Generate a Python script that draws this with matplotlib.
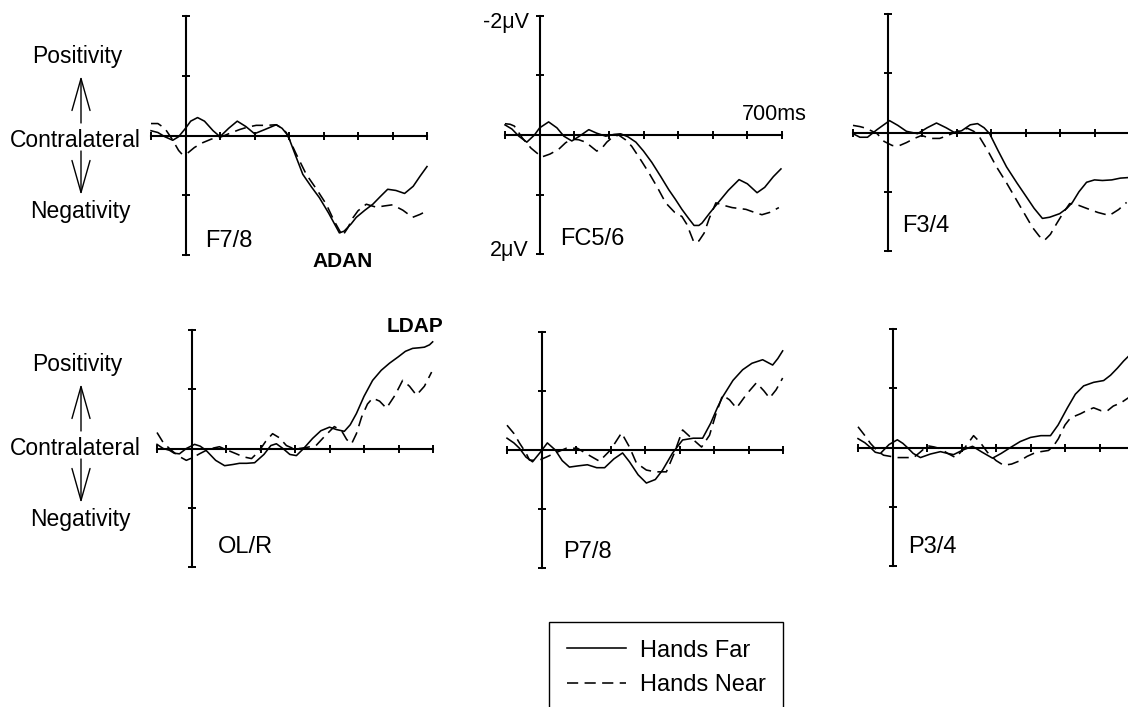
import matplotlib
matplotlib.use("Agg")
import matplotlib.pyplot as plt
from matplotlib.patches import FancyArrowPatch, ArrowStyle

plt.rcParams['font.family'] = ['Liberation Sans', 'DejaVu Sans']

W, H = 1128, 707

# ---------------- data (time in ms, amplitude in microvolts) ----------------
# F7/8
f78_far_t = [-100, -80, -60, -37, -20, 0, 15, 35, 55, 80, 100, 125, 150, 175, 200, 230, 263, 280, 297,
             320, 340, 365, 388, 415, 446, 460, 480, 495, 520, 543, 565, 586, 610, 635, 660, 680, 700]
f78_far = [-0.08, -0.05, 0.02, 0.08, 0.02, -0.12, -0.24, -0.30, -0.24, -0.08, 0.02, -0.12, -0.24, -0.15,
           -0.03, -0.10, -0.18, -0.12, 0.0, 0.35, 0.65, 0.86, 1.04, 1.30, 1.63, 1.60, 1.48, 1.37, 1.25,
           1.15, 1.02, 0.90, 0.92, 0.97, 0.85, 0.68, 0.52]
f78_near_t = [-100, -80, -60, -40, -20, -9, 5, 26, 50, 75, 100, 130, 157, 180, 205, 235, 263, 280, 292,
              320, 350, 380, 408, 430, 455, 470, 485, 500, 524, 553, 575, 600, 630, 658, 680, 700]
f78_near = [-0.20, -0.20, -0.12, 0.05, 0.25, 0.32, 0.30, 0.20, 0.12, 0.06, 0.03, -0.04, -0.10, -0.14,
            -0.17, -0.17, -0.18, -0.12, -0.05, 0.30, 0.65, 0.90, 1.15, 1.42, 1.68, 1.55, 1.38, 1.26,
            1.15, 1.20, 1.18, 1.16, 1.25, 1.37, 1.32, 1.26]

# FC5/6
fc56_far_t = [-100, -80, -60, -37, -15, 0, 26, 50, 70, 93, 115, 142, 165, 191, 215, 234, 255, 278, 300,
              324, 350, 373, 392, 411, 430, 446, 460, 469, 490, 518, 545, 576, 600, 628, 650, 675, 697]
fc56_far = [-0.17, -0.10, 0.02, 0.12, 0.0, -0.12, -0.22, -0.12, 0.02, 0.10, 0.02, -0.09, -0.03, 0.02,
            -0.01, -0.02, 0.03, 0.12, 0.27, 0.46, 0.70, 0.92, 1.08, 1.25, 1.40, 1.52, 1.52, 1.48, 1.32,
            1.12, 0.93, 0.75, 0.82, 0.97, 0.88, 0.70, 0.57]
fc56_near_t = [-100, -85, -73, -50, -25, 6, 30, 55, 75, 93, 113, 133, 150, 165, 180, 194, 210, 228, 248,
               266, 290, 315, 340, 364, 390, 411, 425, 446, 460, 475, 490, 509, 530, 556, 596, 620, 642,
               665, 691]
fc56_near = [-0.19, -0.18, -0.15, 0.05, 0.22, 0.37, 0.32, 0.24, 0.13, 0.07, 0.08, 0.12, 0.20, 0.27, 0.22,
             0.12, 0.04, 0.0, 0.08, 0.19, 0.40, 0.63, 0.88, 1.14, 1.30, 1.37, 1.50, 1.81, 1.78, 1.65,
             1.40, 1.14, 1.18, 1.22, 1.25, 1.30, 1.34, 1.30, 1.22]

# F3/4
f34_far_t = [-100, -80, -58, -30, 6, 30, 55, 87, 115, 142, 170, 194, 215, 240, 261, 280, 296, 320, 345,
             375, 403, 425, 449, 470, 499, 520, 536, 555, 577, 600, 623, 650, 675, 700]
f34_far = [0.02, 0.08, 0.08, -0.05, -0.20, -0.12, -0.02, 0.02, -0.08, -0.16, -0.08, 0.0, -0.03, -0.13,
           -0.15, -0.08, 0.02, 0.30, 0.58, 0.85, 1.09, 1.28, 1.45, 1.43, 1.37, 1.28, 1.18, 1.00, 0.84,
           0.80, 0.81, 0.80, 0.77, 0.76]
f34_near_t = [-100, -80, -61, -30, -10, 14, 35, 55, 78, 99, 125, 151, 175, 194, 215, 232, 250, 267, 290,
              316, 345, 374, 398, 420, 440, 455, 472, 490, 510, 528, 550, 577, 610, 643, 670, 693]
f34_near = [-0.12, -0.10, -0.07, 0.02, 0.15, 0.22, 0.22, 0.17, 0.10, 0.05, 0.10, 0.10, 0.05, 0.0, -0.04,
            -0.07, -0.02, 0.08, 0.30, 0.58, 0.85, 1.14, 1.38, 1.60, 1.75, 1.82, 1.72, 1.54, 1.35, 1.20,
            1.22, 1.28, 1.35, 1.40, 1.30, 1.18]

# OL/R
olr_far_t = [-100, -82, -64, -50, -35, -15, 9, 25, 42, 70, 96, 120, 139, 160, 183, 210, 230, 246, 265, 285,
             304, 325, 351, 375, 400, 420, 443, 460, 478, 500, 525, 550, 574, 600, 620, 641, 660, 675,
             690, 699]
olr_far = [-0.07, 0.0, 0.03, 0.08, 0.09, 0.0, -0.07, -0.04, 0.03, 0.20, 0.29, 0.27, 0.25, 0.25, 0.24,
           0.10, -0.05, -0.08, 0.0, 0.10, 0.12, 0.0, -0.17, -0.30, -0.36, -0.32, -0.29, -0.40, -0.59,
           -0.88, -1.15, -1.32, -1.44, -1.55, -1.64, -1.69, -1.70, -1.71, -1.75, -1.80]
olr_near_t = [-100, -82, -64, -40, -15, 5, 23, 50, 81, 105, 130, 150, 174, 195, 215, 235, 255, 275, 295,
              313, 335, 361, 385, 414, 435, 450, 464, 478, 493, 510, 525, 545, 565, 590, 612, 632, 652,
              675, 696]
olr_near = [-0.27, -0.10, 0.0, 0.12, 0.20, 0.15, 0.09, 0.01, -0.03, 0.03, 0.09, 0.14, 0.17, 0.05, -0.12,
            -0.25, -0.18, -0.05, 0.0, 0.0, -0.02, -0.05, -0.20, -0.37, -0.30, -0.15, -0.08, -0.25, -0.53,
            -0.75, -0.85, -0.80, -0.68, -0.90, -1.15, -1.05, -0.90, -1.05, -1.29]

# P7/8
p78_far_t = [-100, -80, -64, -45, -26, -5, 17, 40, 60, 81, 105, 133, 160, 183, 210, 235, 255, 280, 304,
             330, 351, 380, 409, 440, 467, 490, 510, 525, 555, 583, 610, 641, 670, 685, 699]
p78_far = [-0.20, -0.12, -0.03, 0.12, 0.20, 0.05, -0.12, 0.0, 0.18, 0.29, 0.27, 0.25, 0.30, 0.30, 0.15,
           0.05, 0.20, 0.42, 0.56, 0.50, 0.34, 0.05, -0.17, -0.20, -0.20, -0.45, -0.72, -0.90, -1.18,
           -1.36, -1.47, -1.53, -1.44, -1.55, -1.68]
p78_near_t = [-100, -80, -64, -45, -35, -10, 14, 40, 72, 104, 135, 168, 200, 232, 255, 275, 304, 330,
              362, 385, 409, 435, 464, 487, 505, 525, 545, 565, 595, 623, 645, 661, 680, 699]
p78_near = [-0.42, -0.28, -0.12, 0.05, 0.17, 0.18, 0.12, 0.05, -0.03, -0.03, 0.08, 0.19, 0.0, -0.29,
            -0.05, 0.22, 0.34, 0.37, 0.37, 0.05, -0.34, -0.20, -0.05, -0.25, -0.60, -0.93, -0.85, -0.71,
            -0.95, -1.14, -1.00, -0.88, -1.02, -1.22]

# P3/4
p34_far_t = [-100, -80, -64, -50, -35, -10, 14, 30, 43, 60, 81, 110, 139, 160, 177, 205, 232, 260, 290,
             315, 342, 370, 400, 430, 458, 480, 507, 530, 554, 583, 612, 632, 652, 670, 684, 700]
p34_far = [-0.15, -0.08, 0.0, 0.08, 0.10, -0.05, -0.13, -0.07, 0.0, 0.10, 0.17, 0.11, 0.07, 0.10, 0.12,
           0.04, -0.02, 0.08, 0.18, 0.10, 0.0, -0.10, -0.17, -0.20, -0.20, -0.38, -0.67, -0.90, -1.04,
           -1.10, -1.13, -1.22, -1.34, -1.46, -1.54, -1.62]
p34_near_t = [-100, -80, -64, -45, -26, 14, 40, 61, 80, 101, 120, 139, 160, 183, 210, 235, 255, 275, 300,
              322, 345, 371, 390, 409, 430, 452, 466, 481, 500, 516, 545, 565, 583, 605, 623, 640, 661,
              684, 700]
p34_near = [-0.35, -0.20, -0.07, 0.05, 0.13, 0.17, 0.17, 0.17, 0.08, -0.03, -0.01, 0.02, 0.10, 0.17,
            0.0, -0.20, -0.08, 0.08, 0.22, 0.30, 0.28, 0.22, 0.15, 0.10, 0.07, 0.05, -0.02, -0.15, -0.38,
            -0.50, -0.57, -0.63, -0.67, -0.62, -0.62, -0.70, -0.75, -0.84, -0.92]

panel_names = ["F7/8", "FC5/6", "F3/4", "OL/R", "P7/8", "P3/4"]
series_labels = ["Hands Far", "Hands Near"]
x_ticks = [-100, 0, 100, 200, 300, 400, 500, 600, 700]
y_ticks = [-2, -1, 0, 1, 2]

panels = [
    (f78_far_t, f78_far, f78_near_t, f78_near),
    (fc56_far_t, fc56_far, fc56_near_t, fc56_near),
    (f34_far_t, f34_far, f34_near_t, f34_near),
    (olr_far_t, olr_far, olr_near_t, olr_near),
    (p78_far_t, p78_far, p78_near_t, p78_near),
    (p34_far_t, p34_far, p34_near_t, p34_near),
]

# panel boxes in pixels: left, right, top, bottom
boxes = [
    (151, 427, 16, 255),
    (505, 782, 16, 254),
    (853, 1129, 14, 251),
    (157, 433, 330, 567),
    (507, 783, 332, 568),
    (858, 1134, 329, 566),
]


def fx(x):
    return x / W


def fy(y):
    return 1 - y / H


fig = plt.figure(figsize=(W / 100, H / 100), dpi=100)
fig.patch.set_facecolor('white')

handles = []
axes = []
for i, ((tf, vf, tn, vn), (l, r, t, b)) in enumerate(zip(panels, boxes)):
    ax = fig.add_axes([fx(l), fy(b), (r - l) / W, (b - t) / H])
    ax.patch.set_visible(False)
    ax.set_xlim(-100, 700)
    ax.set_ylim(2, -2)
    for s in ('top', 'right'):
        ax.spines[s].set_visible(False)
    ax.spines['left'].set_position(('data', 0))
    ax.spines['bottom'].set_position(('data', 0))
    for s in ('left', 'bottom'):
        ax.spines[s].set_linewidth(1.5)
        ax.spines[s].set_zorder(1)
    ax.set_xticks(x_ticks)
    ax.set_yticks(y_ticks)
    ax.tick_params(direction='inout', length=6, width=1.4, labelbottom=False, labelleft=False)
    h1, = ax.plot(tf, vf, color='black', lw=1.15, clip_on=False, label=series_labels[0], zorder=3,
                  solid_joinstyle='round')
    h2, = ax.plot(tn, vn, color='black', lw=1.15, clip_on=False, dashes=(7, 4),
                  label=series_labels[1], zorder=3, dash_joinstyle='round')
    if i == 0:
        handles = [h1, h2]
    axes.append(ax)

# panel labels (baseline positions in pixels)
label_pos = [(205, 247), (560, 245), (902, 232), (218, 553), (563, 558), (908, 553)]
for name, (x, y) in zip(panel_names, label_pos):
    fig.text(fx(x), fy(y), name, fontsize=17, ha='left', va='baseline')

fig.text(fx(312), fy(267), "ADAN", fontsize=15, fontweight='bold', ha='left', va='baseline')
fig.text(fx(387), fy(332), "LDAP", fontsize=15, fontweight='bold', ha='left', va='baseline')
fig.text(fx(483), fy(28), "-2\u03bcV", fontsize=15.5, ha='left', va='baseline')
fig.text(fx(490), fy(256), "2\u03bcV", fontsize=15.5, ha='left', va='baseline')
fig.text(fx(742), fy(120), "700ms", fontsize=15.5, ha='left', va='baseline')

# left-side polarity labels
for dy in (0, 308):
    fig.text(fx(77), fy(63 + dy), "Positivity", fontsize=16.5, ha='center', va='baseline')
    fig.text(fx(10), fy(147 + dy), "Contralateral", fontsize=16.5, ha='left', va='baseline')
    fig.text(fx(80), fy(218 + dy), "Negativity", fontsize=16.5, ha='center', va='baseline')
    style = ArrowStyle('->', head_length=23, head_width=6.5)
    a1 = FancyArrowPatch((fx(81), fy(123 + dy)), (fx(81), fy(76 + dy)), transform=fig.transFigure,
                         arrowstyle=style, mutation_scale=1, lw=1.0, color='black',
                         shrinkA=0, shrinkB=0)
    a2 = FancyArrowPatch((fx(81), fy(151 + dy)), (fx(81), fy(195 + dy)), transform=fig.transFigure,
                         arrowstyle=style, mutation_scale=1, lw=1.0, color='black',
                         shrinkA=0, shrinkB=0)
    fig.add_artist(a1)
    fig.add_artist(a2)

leg = fig.legend(handles, series_labels, loc='upper left', bbox_to_anchor=(fx(549), fy(622)),
                 borderaxespad=0, frameon=True, fancybox=False, edgecolor='black', framealpha=1,
                 fontsize=17, handlelength=2.5, handletextpad=0.6, borderpad=0.75, labelspacing=0.52)
leg.get_frame().set_linewidth(1.0)

fig.savefig("out.png", dpi=100)
